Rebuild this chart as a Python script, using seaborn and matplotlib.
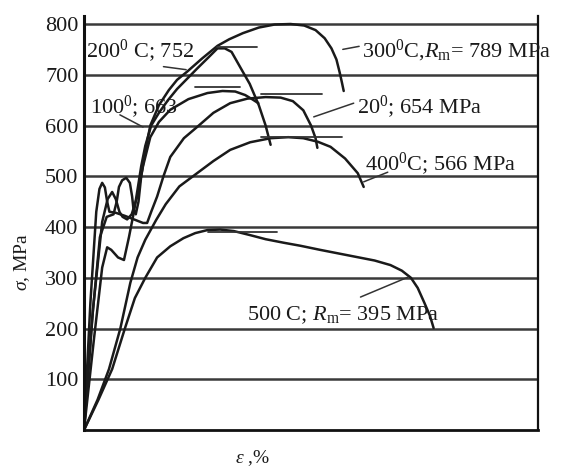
import matplotlib
matplotlib.use("Agg")
import matplotlib.pyplot as plt
import numpy as np
import pandas as pd
import seaborn as sns

# ---- data (strain in arbitrary % units, stress in MPa) ----
t20_x = [0, 1.4, 2.7, 3.4, 4.0, 4.6, 5.1, 5.6, 7.0, 9.0, 11.0, 13.0, 13.9, 14.8, 16.1, 17.5, 19.0, 22.0, 24.9, 28.5, 32.2, 36.0, 40.0, 43.3, 46.0, 48.3, 50.0, 51.0, 51.4]
t20_y = [0, 250, 430, 475, 487, 478, 450, 430, 428, 422, 415, 408, 408, 430, 460, 500, 538, 575, 597, 625, 644, 653, 656, 655, 648, 630, 600, 575, 556]

t100_x = [0, 2.0, 4.0, 5.2, 6.2, 7.0, 7.8, 8.5, 9.5, 10.5, 11.7, 13.0, 14.6, 16.5, 19.0, 23.0, 27.2, 30.5, 33.3, 35.5, 37.0, 38.4]
t100_y = [0, 240, 410, 455, 469, 455, 430, 420, 415, 425, 459, 520, 577, 607, 631, 652, 664, 668, 667, 660, 652, 644]

t200_x = [0, 2.2, 4.0, 5.1, 6.0, 7.5, 8.8, 9.9, 11.0, 11.9, 12.6, 13.5, 14.8, 16.5, 18.5, 20.5, 22.7, 25.0, 27.5, 29.4, 31.0, 32.5, 34.4, 36.5, 38.5, 40.0, 41.1]
t200_y = [0, 180, 320, 360, 355, 340, 335, 380, 430, 480, 520, 560, 600, 625, 650, 672, 692, 713, 735, 752, 752, 745, 715, 682, 640, 600, 562]

t300_x = [0, 1.8, 3.5, 5.0, 6.5, 7.2, 7.7, 8.4, 9.3, 10.1, 10.6, 10.9, 11.4, 12.0, 12.6, 13.5, 14.6, 16.5, 18.7, 20.5, 22.7, 26.0, 29.4, 32.0, 35.0, 38.5, 42.0, 45.5, 48.5, 51.0, 53.0, 54.5, 55.6, 56.3, 56.8, 57.2]
t300_y = [0, 220, 380, 420, 425, 450, 479, 492, 497, 487, 460, 435, 425, 450, 500, 550, 600, 640, 670, 690, 706, 732, 757, 770, 782, 793, 799, 800, 797, 788, 772, 752, 730, 705, 685, 668]

t400_x = [0, 3.0, 5.5, 8.0, 10.2, 11.8, 13.5, 15.9, 18.0, 21.0, 24.9, 28.5, 32.2, 36.6, 41.1, 45.0, 48.3, 51.5, 54.3, 57.5, 60.3, 61.6]
t400_y = [0, 60, 120, 200, 290, 340, 375, 414, 445, 480, 506, 530, 552, 567, 575, 577, 575, 568, 558, 535, 506, 479]

t500_x = [0, 3.2, 6.2, 9.0, 11.2, 13.5, 16.1, 19.0, 21.9, 24.5, 27.2, 30.0, 33.0, 36.6, 40.0, 44.0, 47.7, 52.0, 56.0, 60.0, 64.0, 67.5, 70.0, 72.0, 73.5, 75.0, 76.2, 77.0]
t500_y = [0, 60, 120, 200, 260, 300, 340, 362, 378, 388, 394, 395, 392, 384, 376, 369, 363, 355, 348, 341, 334, 325, 314, 300, 280, 250, 225, 201]

# peak markers (short horizontal strokes)
peak_x0 = [29.4, 24.5, 38.9, 38.9, 27.2]
peak_x1 = [38.2, 34.4, 52.5, 56.8, 42.6]
peak_y = [755, 676, 662, 578, 390]

# labels
label_text = ["200$^0$ C; 752", "100$^0$; 663", "300$^0$C,$R_{\\rm m}$= 789 MPa",
              "20$^0$; 654 MPa", "400$^0$C; 566 MPa", "500 C; $R_{\\rm m}$= 395 MPa"]
label_x = [0.5, 1.3, 61.2, 60.1, 61.9, 35.9]
label_y = [735, 625, 735, 625, 512, 217]

# leader lines
lead_x0 = [17.5, 7.9, 57.0, 50.6, 61.6, 60.9]
lead_y0 = [716, 621, 750, 617, 489, 262]
lead_x1 = [22.5, 13.0, 60.6, 59.4, 66.9, 71.3]
lead_y1 = [710, 597, 756, 644, 508, 301]

yticks = [100, 200, 300, 400, 500, 600, 700, 800]

# ---- style ----
sns.set_style("white")
plt.rcParams["font.family"] = ["Liberation Serif", "DejaVu Serif"]
plt.rcParams["mathtext.fontset"] = "custom"
plt.rcParams["mathtext.rm"] = "Liberation Serif"
plt.rcParams["mathtext.it"] = "Liberation Serif:italic"
plt.rcParams["mathtext.bf"] = "Liberation Serif:bold"

fig = plt.figure(figsize=(5.75, 4.71), dpi=100)
ax = fig.add_axes([0.1461, 0.0870, 0.7896, 0.8782])

frames = []
for name, xs, ys in [("20", t20_x, t20_y), ("100", t100_x, t100_y), ("200", t200_x, t200_y),
                     ("300", t300_x, t300_y), ("400", t400_x, t400_y), ("500", t500_x, t500_y)]:
    frames.append(pd.DataFrame({"curve": name, "strain": xs, "stress": ys}))
df = pd.concat(frames, ignore_index=True)

sns.lineplot(data=df, x="strain", y="stress", units="curve", estimator=None, sort=False,
             color="#1a1a1a", lw=1.8, ax=ax, legend=False)

for x0, x1, y in zip(peak_x0, peak_x1, peak_y):
    sns.lineplot(x=[x0, x1], y=[y, y], color="#333333", lw=1.3, ax=ax)
for x0, y0, x1, y1 in zip(lead_x0, lead_y0, lead_x1, lead_y1):
    sns.lineplot(x=[x0, x1], y=[y0, y1], color="#333333", lw=1.1, ax=ax)

for t, x, y in zip(label_text, label_x, label_y):
    ax.text(x, y, t, fontsize=16, ha="left", va="baseline", color="#1a1a1a", clip_on=False)

ax.set_xlim(0, 100)
ax.set_ylim(0, 815)
ax.set_yticks(yticks)
ax.set_yticklabels([str(v) for v in yticks], fontsize=16, color="#1a1a1a")
ax.set_xticks([])
ax.tick_params(axis="y", length=0, pad=4)
ax.grid(axis="y", color="#3a3a3a", lw=1.8)
ax.set_xlabel("")
ax.set_ylabel("")
for side in ["left", "right", "bottom"]:
    ax.spines[side].set_visible(True)
    ax.spines[side].set_color("#111111")
ax.spines["left"].set_linewidth(2.2)
ax.spines["right"].set_linewidth(1.6)
ax.spines["bottom"].set_linewidth(2.0)
ax.spines["top"].set_visible(False)

fig.text(22 / 575, 1 - 262 / 471, "$\\sigma$, MPa", rotation=90, fontsize=14,
         ha="center", va="center", color="#1a1a1a")
fig.text(252 / 575, 1 - 458 / 471, "$\\varepsilon$ ,%", fontsize=14,
         ha="center", va="center", color="#1a1a1a")

fig.savefig("out.png", dpi=100)
